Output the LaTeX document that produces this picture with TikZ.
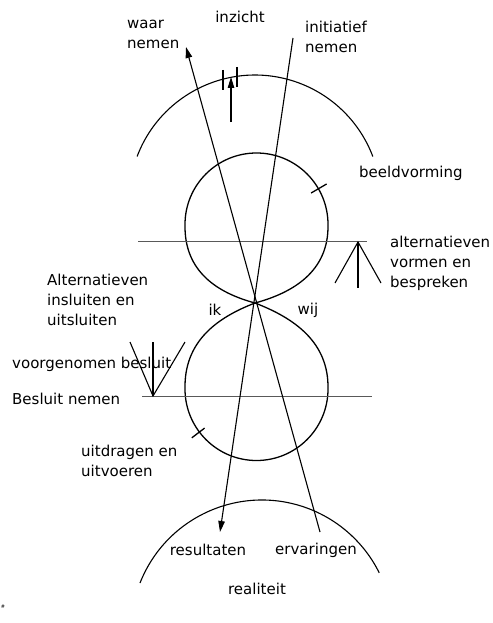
\documentclass[tikz,border=0pt]{standalone}
\usepackage{fontspec}
\setmainfont{DejaVu Sans}
\usetikzlibrary{arrows.meta}

\begin{document}
\begin{tikzpicture}[x=1pt, y=1pt,
    lbl/.style={inner sep=0pt, font=\fontsize{15}{20}\selectfont, align=left},
    ln/.style={line width=1.1pt},
    arr/.style={line width=1.1pt, -{Triangle[length=11pt, width=6.5pt]}},
    hline/.style={line width=1.3pt, black!65},
    lus/.style={line width=1.3pt}
]
\useasboundingbox (0,0) rectangle (492,-623);

% texts
\node[lbl, anchor=west] (waar) at (127,-34.5) {waar\\nemen};
\node[lbl] (inzicht) at (240,-17) {inzicht};
\node[lbl, anchor=west] (init) at (305,-36.5) {initiatief\\nemen};
\node[lbl, anchor=west] (beeld) at (359,-173) {beeldvorming};
\node[lbl, anchor=west] (altv) at (390,-263.5) {alternatieven\\vormen en\\bespreken};
\node[lbl, anchor=west] (alti) at (47,-299.5) {Alternatieven\\insluiten en\\uitsluiten};
\node[lbl] (ik) at (215,-310) {ik};
\node[lbl] (wij) at (308,-310) {wij};
\node[lbl, anchor=west] (voorg) at (12,-364) {voorgenomen besluit};
\node[lbl, anchor=west] (besl) at (12,-399) {Besluit nemen};
\node[lbl, anchor=west] (uitdr) at (81,-460.5) {uitdragen en\\uitvoeren};
\node[lbl] (res) at (208,-550) {resultaten};
\node[lbl] (erv) at (316,-550) {ervaringen};
\node[lbl] (real) at (257,-589) {realiteit};
\node[inner sep=0pt, font=\fontsize{5}{5}\selectfont] (hash) at (3,-607) {\#};

% arcs
\draw[ln] (137.1,-156.5) arc[start angle=159.3, end angle=20.7, radius=126pt];
\draw[ln] (140,-583) arc[start angle=158.5, end angle=26.4, radius=131pt];

% figure eight
\coordinate (C) at (255,-303);
\draw[lus] (C) .. controls (292,-293) and (329,-272) .. (328,-224.5)
    arc[start angle=0, end angle=180, radius=71.5pt]
    .. controls (184,-272) and (218,-293) .. (C)
    .. controls (294,-318) and (329,-342) .. (328,-389)
    arc[start angle=0, end angle=-180, radius=71.5pt]
    .. controls (184,-342) and (216,-318) .. (C);
\draw[lus] (311.1,-193) -- (326.6,-184);
\draw[lus] (204.6,-428.1) -- (191.8,-437.8);

% horizontal lines
\coordinate (h1a) at (138,-241.5);
\coordinate (h1b) at (367,-241.5);
\coordinate (h2a) at (142,-396.5);
\coordinate (h2b) at (372,-396.5);
\draw[hline] (h1a) -- (h1b);
\draw[hline] (h2a) -- (h2b);

% crossing lines
\coordinate (waarTop) at (186,-47);
\coordinate (ervBot) at (320,-532);
\coordinate (initTop) at (293,-38);
\coordinate (resBot) at (220,-532);
\draw[arr] (ervBot) -- (waarTop);
\draw[arr] (initTop) -- (resBot);

% inzicht
\coordinate (inzA) at (231,-122);
\coordinate (inzB) at (231,-77);
\draw[arr] (inzA) -- (inzB);
\draw[ln] (223,-70) -- (223,-90);
\draw[ln] (237,-67) -- (237,-87);

% vorken
\coordinate (topV) at (358,-242);
\draw[ln] (335,-283) -- (topV) -- (381,-283);
\draw[ln] (topV) -- (358,-288);
\coordinate (botV) at (153,-396);
\draw[ln] (130,-342) -- (botV) -- (185,-342);
\draw[ln] (botV) -- (153,-342);
\end{tikzpicture}
\end{document}
